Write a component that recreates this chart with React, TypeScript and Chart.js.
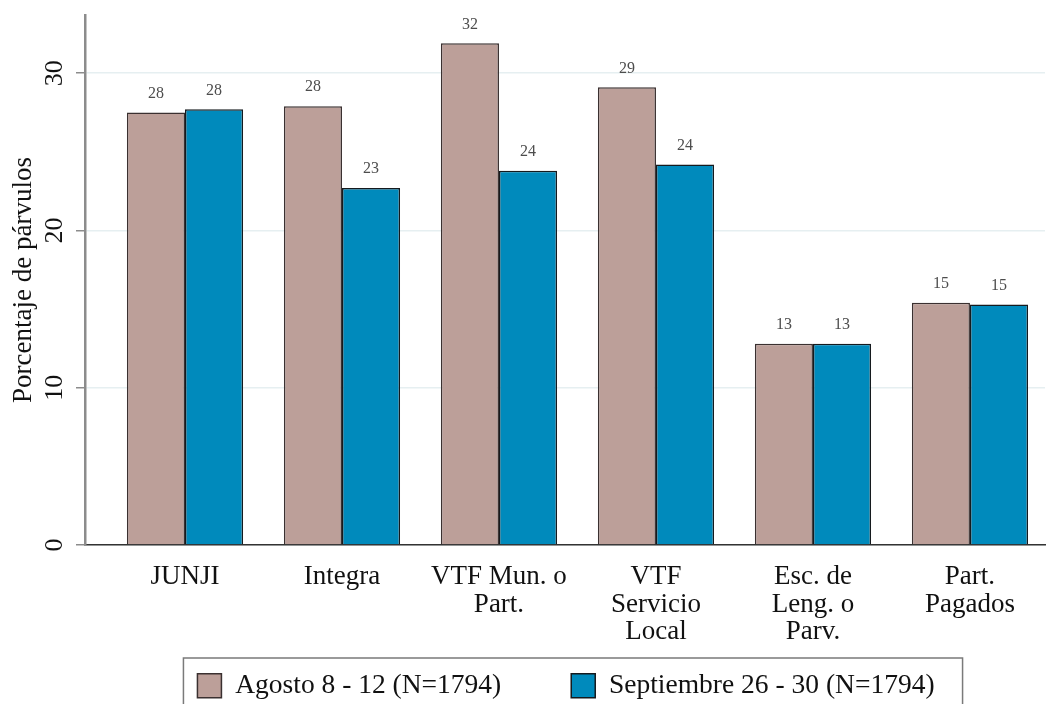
import React, { useEffect, useRef } from 'react';
import { Chart, registerables } from 'chart.js';

Chart.register(...registerables);

const categories: string[][] = [
  ['JUNJI'],
  ['Integra'],
  ['VTF Mun. o', 'Part.'],
  ['VTF', 'Servicio', 'Local'],
  ['Esc. de', 'Leng. o', 'Parv.'],
  ['Part.', 'Pagados'],
];
const agostoValues = [27.5, 27.9, 31.9, 29.1, 12.8, 15.4];
const septiembreValues = [27.7, 22.7, 23.8, 24.2, 12.8, 15.3];
const seriesNames = ['Agosto 8 - 12 (N=1794)', 'Septiembre 26 - 30 (N=1794)'];
const yTicks = [0, 10, 20, 30];
const yTitle = 'Porcentaje de párvulos';

const FONT = '"Liberation Serif", "Times New Roman", serif';

const valueLabels = {
  id: 'valueLabels',
  afterDatasetsDraw(chart: any) {
    const ctx = chart.ctx;
    ctx.save();
    ctx.font = `16px ${FONT}`;
    ctx.fillStyle = '#4d4d4d';
    ctx.textAlign = 'center';
    ctx.textBaseline = 'middle';
    chart.data.datasets.forEach((ds: any, di: number) => {
      const meta = chart.getDatasetMeta(di);
      meta.data.forEach((bar: any, i: number) => {
        const v = ds.data[i].y;
        ctx.fillText(String(Math.round(v)), bar.x, bar.y - 19);
      });
    });
    ctx.restore();
  },
};

const legendShift = {
  id: 'legendShift',
  afterLayout(chart: any) {
    const lg = chart.legend;
    if (!lg) return;
    lg.left += 1;
    lg.right += 1;
  },
};

const legendBorder = {
  id: 'legendBorder',
  afterDraw(chart: any) {
    const lg = chart.legend;
    if (!lg || !lg.legendHitBoxes || !lg.legendHitBoxes.length) return;
    const boxes = lg.legendHitBoxes;
    const first = boxes[0];
    const last = boxes[boxes.length - 1];
    const left = first.left - 14;
    const right = last.left + last.width + 28;
    const top = first.top - 14;
    const bottom = chart.height + 5;
    const ctx = chart.ctx;
    ctx.save();
    ctx.strokeStyle = '#7a7a7a';
    ctx.lineWidth = 1.5;
    ctx.strokeRect(left, top, right - left, bottom - top);
    ctx.restore();
  },
};

export default function App() {
  const ref = useRef<HTMLCanvasElement | null>(null);

  useEffect(() => {
    if (!ref.current) return;
    const chart = new Chart(ref.current, {
      type: 'bar',
      data: {
        datasets: [
          {
            label: seriesNames[0],
            data: agostoValues.map((v, i) => ({ x: i, y: v })),
            backgroundColor: '#bc9f99',
            borderColor: '#3a3030',
            borderWidth: 1.5,
            categoryPercentage: 0.74,
            barPercentage: 1,
          },
          {
            label: seriesNames[1],
            data: septiembreValues.map((v, i) => ({ x: i, y: v })),
            backgroundColor: '#008abc',
            borderColor: '#151a1e',
            borderWidth: 1.5,
            categoryPercentage: 0.74,
            barPercentage: 1,
          },
        ],
      } as any,
      options: {
        animation: false,
        events: [],
        responsive: true,
        maintainAspectRatio: false,
        layout: { padding: { top: 15, right: 10, left: 0, bottom: 0 } },
        scales: {
          x: {
            type: 'linear',
            offset: false,
            min: -0.637,
            max: 5.478,
            afterBuildTicks: (s: any) => {
              s.ticks = categories.map((_, i) => ({ value: i }));
            },
            afterFit: (s: any) => {
              s.height = 57;
              s.paddingLeft = 0;
              s.paddingRight = 0;
            },
            grid: { display: false, drawTicks: false },
            border: { color: '#333333', width: 1.5 },
            ticks: {
              callback: (v: any) => categories[Math.round(Number(v))],
              font: { family: FONT, size: 27, lineHeight: '27.5px' },
              color: '#111111',
              mirror: true,
              padding: -46,
              minRotation: 0,
              maxRotation: 0,
              autoSkip: false,
            },
          },
          y: {
            min: 0,
            max: 33.7,
            afterBuildTicks: (s: any) => {
              s.ticks = yTicks.map((v) => ({ value: v }));
            },
            afterFit: (s: any) => {
              s.width = 85;
              s.paddingTop = 0;
              s.paddingBottom = 0;
            },
            border: { color: '#8c8c8c', width: 2.5 },
            grid: {
              color: '#e6eff1',
              lineWidth: 1.5,
              drawTicks: true,
              tickLength: 9,
              tickColor: '#8c8c8c',
              tickWidth: 1.5,
            },
            ticks: {
              minRotation: 90,
              maxRotation: 90,
              crossAlign: 'center',
              padding: 8,
              font: { family: FONT, size: 26 },
              color: '#111111',
            },
            title: {
              display: true,
              text: yTitle,
              font: { family: FONT, size: 27 },
              color: '#111111',
              padding: { top: 8, bottom: 0 },
            },
          },
        } as any,
        plugins: {
          legend: {
            position: 'bottom',
            fullSize: false,
            maxHeight: 102,
            labels: {
              boxWidth: 24,
              boxHeight: 24,
              padding: 70,
              font: { family: FONT, size: 27.5 },
              color: '#111111',
            },
          } as any,
          tooltip: { enabled: false },
        },
      },
      plugins: [valueLabels, legendShift, legendBorder],
    });
    return () => chart.destroy();
  }, []);

  return (
    <div style={{ position: 'absolute', left: 0, top: 0, width: '1055px', height: '704px' }}>
      <canvas ref={ref} />
    </div>
  );
}
